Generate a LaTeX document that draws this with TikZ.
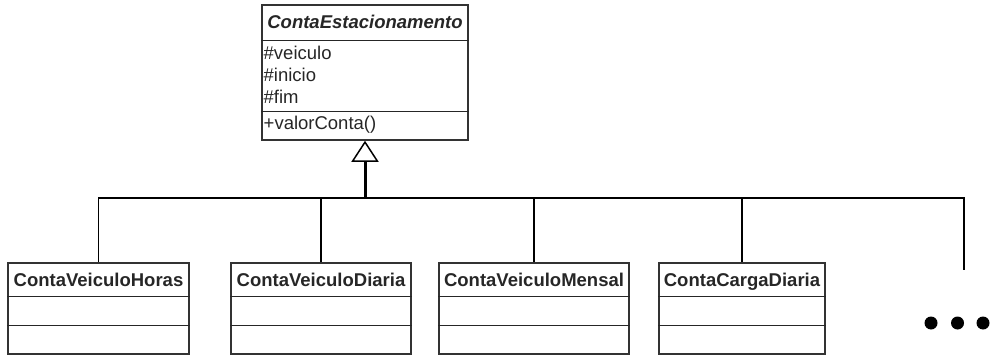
\documentclass[tikz,border=0pt]{standalone}
\usepackage{fontspec}
\setmainfont{Liberation Sans}
\usetikzlibrary{arrows.meta}

\begin{document}
\begin{tikzpicture}[x=1pt, y=-1pt,
        classbox/.style={draw=black!80, line width=1.5pt, inner sep=0pt},
        sep/.style={draw=black!85, line width=1.3pt},
        link/.style={draw=black, line width=1.2pt},
        uml/.style={font=\fontsize{18.5}{22}\selectfont, text=black!85, inner sep=0pt}]
            \useasboundingbox (0,0) rectangle (990,356);
            % classe base
            \node[classbox, minimum width=206pt, minimum height=135pt] (base) at (365, 72.5) {};
            \draw[sep] ([yshift=-36pt]base.north west) -- ([yshift=-36pt]base.north east);
            \draw[sep] ([yshift=-107pt]base.north west) -- ([yshift=-107pt]base.north east);
            \node[uml, anchor=base] (base-name) at (365, 28.5) {\bfseries\itshape ContaEstacionamento};
            \node[uml, anchor=north west, align=left] (base-attr) at (263.5, 46) {\#veiculo\\\#inicio\\\#fim};
            \node[uml, anchor=base west] (base-op) at (263.5, 129.5) {+valorConta()};
            \coordinate (bus) at (base.south |- 0,198);
            \coordinate (more) at (964, 270);
            \draw[link, line width=3pt, -{Triangle[open, length=21pt, width=27pt, line width=1.5pt]}] (bus) -- (base.south);
            \foreach \i/\cx/\w/\txt in {0/98.5/181/ContaVeiculoHoras, 1/321/180/ContaVeiculoDiaria, 2/534/190/ContaVeiculoMensal, 3/742/166/ContaCargaDiaria}
            {
                \begin{scope}
                    \node[classbox, minimum width=\w pt, minimum height=91pt] (sub-\i) at (\cx, 308.5) {};
                    \node[uml, anchor=base] (sub-name-\i) at (\cx, 286) {\bfseries \txt};
                    \draw[sep] ([yshift=-34pt]sub-\i.north west) -- ([yshift=-34pt]sub-\i.north east);
                    \draw[sep] ([yshift=-63pt]sub-\i.north west) -- ([yshift=-63pt]sub-\i.north east);
                    \draw[link] (bus) -| (sub-\i.north);
                \end{scope}
            }
            \draw[link] (bus) -| (more);
            %\draw[link] (more) -- ++(0,20);
            \foreach \x in {931, 957.5, 983}
                \fill[black] (\x, 323) circle (6.5pt);
        \end{tikzpicture}
\end{document}
